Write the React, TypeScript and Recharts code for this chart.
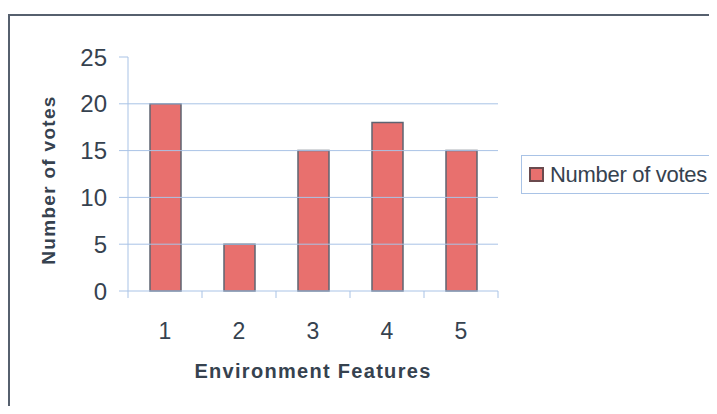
import { BarChart, Bar, XAxis, YAxis, ReferenceLine, Legend } from "recharts";

// Votes per environment feature
const features = ["1", "2", "3", "4", "5"];
const votes = [20, 5, 15, 18, 15];
const yTicks = [0, 5, 10, 15, 20, 25];
const gridValues = [5, 10, 15, 20];

const data = features.map((f, i) => ({ feature: f, votes: votes[i] }));

const W = 717;
const H = 414;
const PLOT_LEFT = 128;
const PLOT_RIGHT = 498;
const BAND = (PLOT_RIGHT - PLOT_LEFT) / features.length;

const AXIS_BLUE = "#a9c3e6";
const TEXT = "#36424f";
const FONT = "Arial, 'Liberation Sans', sans-serif";

// Excel-style category tick: label at band centre, tick marks at band edges
const CategoryTick = (props: any) => {
  const { x, y, payload, index } = props;
  const left = x - BAND / 2;
  const right = x + BAND / 2;
  return (
    <g>
      <line x1={left} y1={y} x2={left} y2={y + 7} stroke={AXIS_BLUE} />
      {index === features.length - 1 && (
        <line x1={right} y1={y} x2={right} y2={y + 7} stroke={AXIS_BLUE} />
      )}
      <text
        x={x}
        y={y + 48}
        textAnchor="middle"
        fontSize={23}
        fill={TEXT}
        fontFamily={FONT}
      >
        {payload.value}
      </text>
    </g>
  );
};

const LegendBox = () => (
  <div
    style={{
      width: 193,
      height: 39,
      border: `1px solid ${AXIS_BLUE}`,
      boxSizing: "border-box",
      display: "flex",
      alignItems: "center",
      paddingLeft: 7,
      fontFamily: FONT,
      fontSize: 22,
      color: TEXT,
      letterSpacing: -0.3,
      background: "#fff",
      whiteSpace: "nowrap",
    }}
  >
    <span
      style={{
        display: "inline-block",
        width: 11,
        height: 11,
        background: "#e8706e",
        border: "2px solid #6a4a4e",
        marginRight: 6,
      }}
    />
    Number of votes
  </div>
);

export default function App() {
  return (
    <div
      style={{
        position: "relative",
        width: W,
        height: H,
        margin: -8,
        background: "#fff",
        overflow: "hidden",
      }}
    >
      <div
        style={{
          position: "absolute",
          left: 8,
          top: 14,
          width: 706,
          height: 398,
          borderLeft: "2px solid #56606e",
          borderTop: "2px solid #56606e",
          borderRight: "1px solid #dde3ea",
          boxSizing: "border-box",
        }}
      />
      <div style={{ position: "absolute", left: 0, top: 0 }}>
        <BarChart
          width={W}
          height={H}
          data={data}
          margin={{ top: 57, right: W - PLOT_RIGHT, bottom: 0, left: 0 }}
          barSize={31}
        >
          {gridValues.map((v) => (
            <ReferenceLine key={v} y={v} stroke={AXIS_BLUE} strokeWidth={1} />
          ))}
          <XAxis
            dataKey="feature"
            height={123}
            axisLine={{ stroke: AXIS_BLUE }}
            tickLine={false}
            tickSize={0}
            tickMargin={0}
            tick={<CategoryTick />}
            interval={0}
            label={{
              value: "Environment Features",
              position: "insideTop",
              offset: 73,
              fontSize: 20,
              fontWeight: "bold",
              letterSpacing: 1.3,
              fill: TEXT,
              fontFamily: FONT,
            }}
          />
          <YAxis
            width={PLOT_LEFT}
            domain={[0, 25]}
            ticks={yTicks}
            interval={0}
            axisLine={{ stroke: AXIS_BLUE }}
            tickLine={{ stroke: AXIS_BLUE }}
            tickSize={9}
            tickMargin={12}
            tick={{ fontSize: 24, fill: TEXT, fontFamily: FONT }}
            label={{
              value: "Number of votes",
              angle: -90,
              position: "center",
              dx: -16,
              dy: 6,
              fontSize: 19,
              fontWeight: "bold",
              letterSpacing: 1.3,
              fill: TEXT,
              fontFamily: FONT,
            }}
          />
          <Legend
            layout="horizontal"
            verticalAlign="middle"
            align="center"
            content={<LegendBox />}
            wrapperStyle={{ position: "absolute", left: 521, top: 155, width: 193 }}
          />
          <Bar
            dataKey="votes"
            name="Number of votes"
            fill="#e8706e"
            stroke="#5e6472"
            strokeWidth={1.5}
            isAnimationActive={false}
          />
        </BarChart>
      </div>
    </div>
  );
}
